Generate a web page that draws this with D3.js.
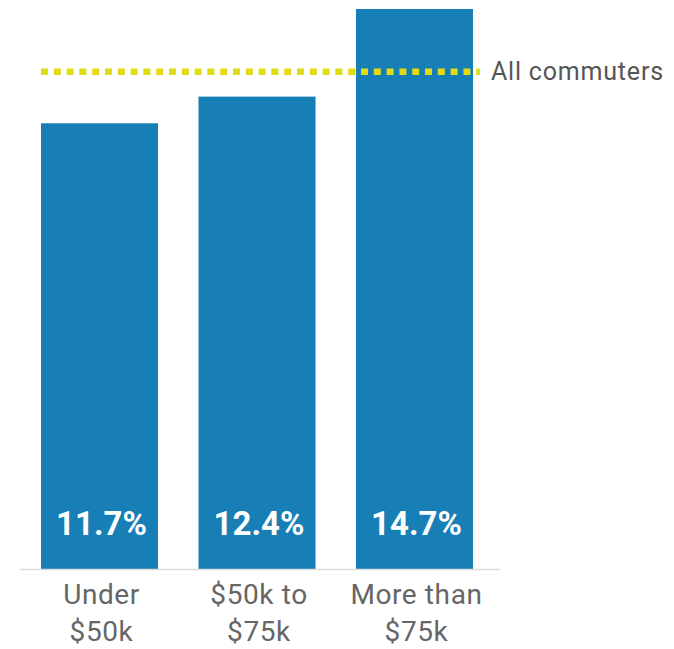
<!DOCTYPE html>
<html>
<head>
<meta charset="utf-8">
<script src="https://cdn.jsdelivr.net/npm/d3@7"></script>
<style>
  html, body { margin: 0; padding: 0; background: #fff; }
  svg { display: block; }
</style>
</head>
<body>
<svg id="chart" width="674" height="649"></svg>
<script>
const categories = ["Under $50k", "$50k to $75k", "More than $75k"];
const labelLines = [["Under", "$50k"], ["$50k to", "$75k"], ["More than", "$75k"]];
const values = [11.7, 12.4, 14.7];
const allCommuters = 13.05;
const referenceLabel = "All commuters";

const svg = d3.select("#chart");
const baseY = 569;

const x = d3.scaleBand().domain(categories).range([41, 473]).paddingInner(0.257).paddingOuter(0);
const y = d3.scaleLinear().domain([0, 14.7]).range([baseY, 9]);

// bars
svg.selectAll("rect.bar").data(values).join("rect")
  .attr("class", "bar")
  .attr("x", (d, i) => x(categories[i]))
  .attr("width", x.bandwidth())
  .attr("y", d => y(d))
  .attr("height", d => y(0) - y(d))
  .attr("fill", "#177fb6");

// baseline
svg.append("line")
  .attr("x1", 20).attr("x2", 500)
  .attr("y1", y(0) + 0.5).attr("y2", y(0) + 0.5)
  .attr("stroke", "#dcdcdc").attr("stroke-width", 1.5);

// reference line
svg.append("line")
  .attr("x1", 41).attr("x2", 480)
  .attr("y1", y(allCommuters)).attr("y2", y(allCommuters))
  .attr("stroke", "#e1dc14").attr("stroke-width", 6.5)
  .attr("stroke-dasharray", "7,5.8");

svg.append("text")
  .attr("x", 491).attr("y", y(allCommuters) + 8.5)
  .attr("font-family", "Roboto, sans-serif")
  .attr("font-size", 25)
  .attr("letter-spacing", 0.8)
  .attr("fill", "#555")
  .text(referenceLabel);

// value labels
svg.selectAll("text.val").data(values).join("text")
  .attr("class", "val")
  .attr("x", (d, i) => x(categories[i]) + x.bandwidth() / 2 + 2)
  .attr("y", 535)
  .attr("text-anchor", "middle")
  .attr("font-family", "Roboto, sans-serif")
  .attr("font-weight", "bold")
  .attr("font-size", 33)
  .attr("fill", "#fff")
  .text(d => d.toFixed(1) + "%");

// category labels
const cat = svg.selectAll("text.cat").data(labelLines).join("text")
  .attr("class", "cat")
  .attr("text-anchor", "middle")
  .attr("font-family", "Roboto, sans-serif")
  .attr("font-size", 28)
  .attr("letter-spacing", 0.6)
  .attr("fill", "#666");
cat.each(function(lines, i) {
  const t = d3.select(this);
  lines.forEach((ln, j) => {
    t.append("tspan")
      .attr("x", x(categories[i]) + x.bandwidth() / 2 + 2)
      .attr("y", 604 + j * 37)
      .text(ln);
  });
});
</script>
</body>
</html>
